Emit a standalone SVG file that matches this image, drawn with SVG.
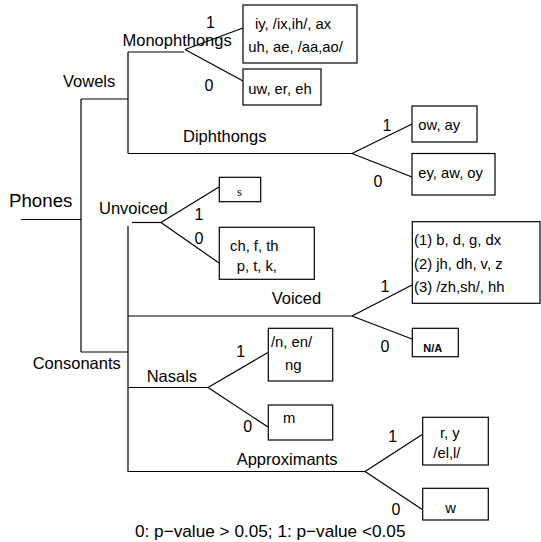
<svg xmlns="http://www.w3.org/2000/svg" width="541" height="542" viewBox="0 0 541 542">
<style>
text{font-family:"Liberation Sans",Arial,sans-serif;fill:#000}
.cat{font-size:16.5px}
.num{font-size:16px}
.box{font-size:14.8px}
.foot{font-size:17.2px}
.serif{font-family:"Liberation Serif","Times New Roman",serif;font-size:12.5px}
.bold{font-size:11px;font-weight:bold}
rect{fill:#fff;stroke:#000;stroke-width:1.2}
.con line{stroke:#000;stroke-width:1.2}
</style>
<rect x="0" y="0" width="541" height="542" style="fill:#fff;stroke:none"/>
<g id="connectors" class="con">
  <line x1="21" y1="219.5" x2="81" y2="219.5"/>
  <line x1="81" y1="99" x2="81" y2="352"/>
  <line x1="81" y1="99" x2="128" y2="99"/>
  <line x1="81" y1="352" x2="128" y2="352"/>
  <line x1="128" y1="52" x2="128" y2="153.5"/>
  <line x1="128" y1="52" x2="184" y2="52"/>
  <line x1="128" y1="153.5" x2="352" y2="153.5"/>
  <line x1="185" y1="49.5" x2="243" y2="28"/>
  <line x1="185" y1="49.5" x2="243" y2="81"/>
  <line x1="352" y1="153.5" x2="412" y2="124"/>
  <line x1="352" y1="153.5" x2="412" y2="177"/>
  <line x1="128" y1="226" x2="128" y2="472"/>
  <line x1="132" y1="222.5" x2="161" y2="222.5"/>
  <line x1="161" y1="222.5" x2="219" y2="187"/>
  <line x1="161" y1="222.5" x2="219" y2="263"/>
  <line x1="128" y1="316" x2="352" y2="316"/>
  <line x1="352" y1="316" x2="412" y2="285"/>
  <line x1="352" y1="316" x2="412" y2="339"/>
  <line x1="128" y1="387.5" x2="208" y2="387.5"/>
  <line x1="208" y1="387.5" x2="268" y2="352.5"/>
  <line x1="208" y1="387.5" x2="268" y2="427"/>
  <line x1="128" y1="471.5" x2="365" y2="471.5"/>
  <line x1="365" y1="471.5" x2="423" y2="434"/>
  <line x1="365" y1="471.5" x2="423" y2="510"/>
</g>
<g id="labels">
  <text x="9" y="207.3" style="font-size:18.7px">Phones</text>
  <text class="cat" x="63" y="87.3">Vowels</text>
  <text class="cat" x="122.5" y="46">Monophthongs</text>
  <text class="cat" x="183" y="141.7">Diphthongs</text>
  <text class="cat" x="99" y="214.3">Unvoiced</text>
  <text class="cat" x="271.7" y="304">Voiced</text>
  <text class="cat" x="32.7" y="369.3">Consonants</text>
  <text class="cat" x="146.7" y="381.7">Nasals</text>
  <text class="cat" x="236.7" y="465">Approximants</text>
  <text class="num" x="206" y="28.3">1</text>
  <text class="num" x="204.5" y="90.7">0</text>
  <text class="num" x="382.5" y="130.7">1</text>
  <text class="num" x="373.5" y="186.7">0</text>
  <text class="num" x="194.5" y="220">1</text>
  <text class="num" x="194.5" y="244">0</text>
  <text class="num" x="380.5" y="291.7">1</text>
  <text class="num" x="380.5" y="351.7">0</text>
  <text class="num" x="236.2" y="357.3">1</text>
  <text class="num" x="243.2" y="431.7">0</text>
  <text class="num" x="388.2" y="442">1</text>
  <text class="num" x="391.5" y="515">0</text>
  <text class="foot" x="135" y="536.7">0: p−value &gt; 0.05; 1: p−value &lt;0.05</text>
</g>
<g id="n-mono1">
  <rect x="243" y="5" width="114" height="58"/>
  <text class="box" x="255" y="28.5">iy, /ix,ih/, ax</text>
  <text class="box" x="248.3" y="52">uh, ae, /aa,ao/</text>
</g>
<g id="n-mono0">
  <rect x="243" y="69" width="78" height="36"/>
  <text class="box" x="248.3" y="93.5">uw, er, eh</text>
</g>
<g id="n-diph1">
  <rect x="412" y="106" width="65" height="36"/>
  <text class="box" x="418.3" y="130">ow, ay</text>
</g>
<g id="n-diph0">
  <rect x="412" y="153.5" width="83" height="41.5"/>
  <text class="box" x="418.3" y="177.5">ey, aw, oy</text>
</g>
<g id="n-unv1">
  <rect x="219.3" y="177.3" width="41.4" height="24.4"/>
  <text class="serif" x="239.5" y="195.5" text-anchor="middle">s</text>
</g>
<g id="n-unv0">
  <rect x="219.3" y="227.3" width="95" height="52"/>
  <text class="box" x="230" y="250.5">ch, f, th</text>
  <text class="box" x="236.7" y="271">p, t, k,</text>
</g>
<g id="n-voi1">
  <rect x="412.3" y="221.7" width="127.7" height="81.6"/>
  <text class="box" x="414" y="244.5">(1) b, d, g, dx</text>
  <text class="box" x="414" y="268.5">(2) jh, dh, v, z</text>
  <text class="box" x="414" y="292">(3) /zh,sh/, hh</text>
</g>
<g id="n-voi0">
  <rect x="412.3" y="328.3" width="46" height="28.4"/>
  <text class="bold" x="423.3" y="352.3">N/A</text>
</g>
<g id="n-nas1">
  <rect x="268.3" y="328.3" width="64.4" height="52.7"/>
  <text class="box" x="271" y="346.7">/n, en/</text>
  <text class="box" x="285" y="370">ng</text>
</g>
<g id="n-nas0">
  <rect x="268.3" y="405" width="64.4" height="35"/>
  <text class="box" x="283" y="422.7">m</text>
</g>
<g id="n-app1">
  <rect x="422.7" y="417.3" width="65.6" height="47.7"/>
  <text class="box" x="440" y="437.5">r, y</text>
  <text class="box" x="433.3" y="458.3">/el,l/</text>
</g>
<g id="n-app0">
  <rect x="422.7" y="488.3" width="65.6" height="31.7"/>
  <text class="box" x="450.7" y="513.3" text-anchor="middle">w</text>
</g>
</svg>
